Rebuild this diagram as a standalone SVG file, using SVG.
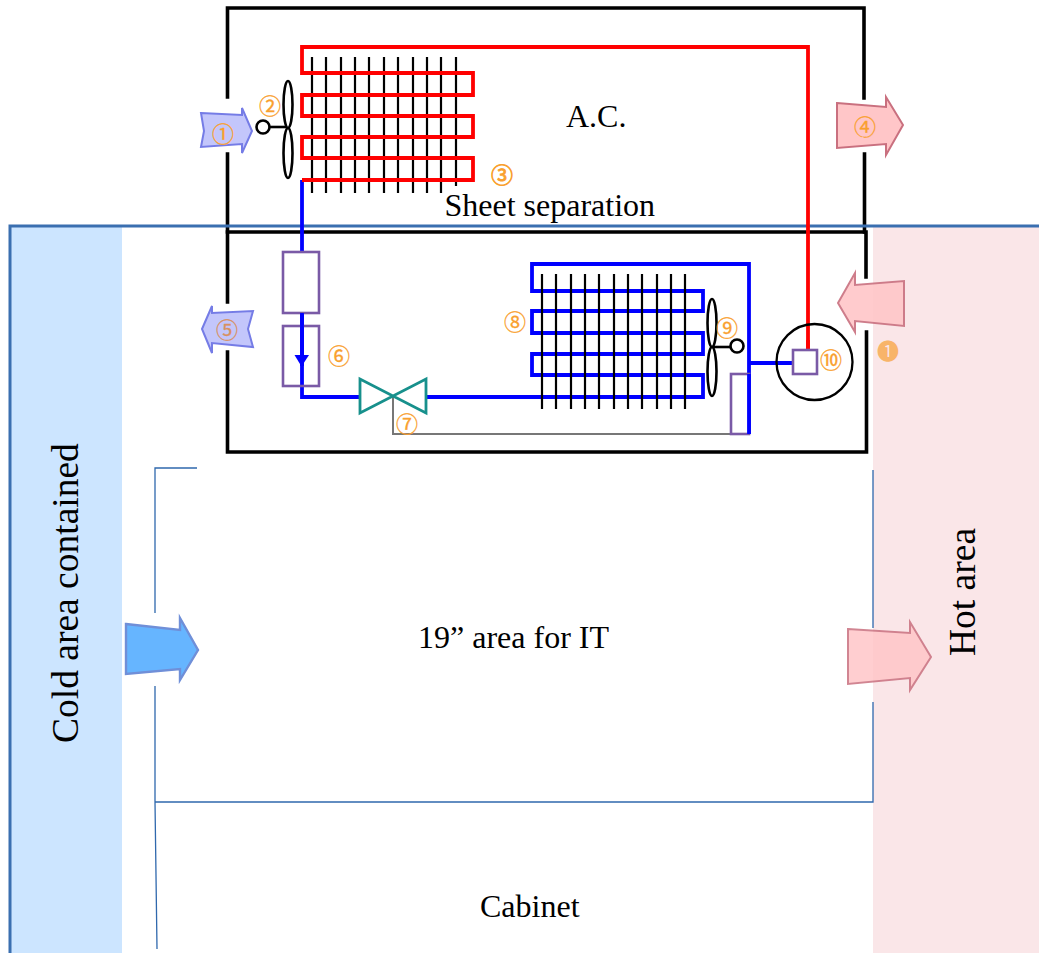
<svg xmlns="http://www.w3.org/2000/svg" width="1039" height="953" viewBox="0 0 1039 953">
<defs><filter id="soft" x="-10%" y="-10%" width="120%" height="120%"><feGaussianBlur stdDeviation="0.6"/></filter></defs>
<style>
text{font-family:"Liberation Serif","Times New Roman",serif;fill:#000}
.num{font-family:"Noto Sans CJK JP","DejaVu Sans",sans-serif;font-size:22px;fill:#f9a02e;stroke:#f9a02e;stroke-width:.3;text-anchor:middle}
.wall{fill:none;stroke:#000;stroke-width:3.6;stroke-linecap:square}
.thin{fill:none;stroke:#2f68ad;stroke-width:1.3}
.red{fill:none;stroke:#f00;stroke-width:3.8}
.blue{fill:none;stroke:#00f;stroke-width:3.8}
.fin{stroke:#000;stroke-width:2.2;fill:none}
.purple{fill:#fff;stroke:#7a5aa6;stroke-width:2.6}
.fan{fill:#fff;stroke:#000;stroke-width:2.6}
.pink{fill:#ffc6c8;stroke:#c9707f;stroke-width:2;filter:url(#soft)}
.lilac{fill:#c3c6fb;stroke:#757ce6;stroke-width:2;filter:url(#soft)}
.valve{fill:#fff;stroke:#17908c;stroke-width:2.8}
</style>
<rect width="1039" height="953" fill="#fff"/>
<g id="cold-area"><rect x="10" y="226" width="112" height="727" fill="#cce5ff"/><text transform="translate(78,743) rotate(-90)" font-size="37.5">Cold area contained</text></g>
<g id="hot-area"><rect x="873" y="226" width="166" height="727" fill="#fae6e8"/><text transform="translate(975,656) rotate(-90)" font-size="37.5">Hot area</text></g>
<g id="connectors">
<path class="wall" d="M227.500 97V8H864V98M864.500 154V232M227.500 154V232"/>
<path class="wall" d="M227.500 232H866V277M866.500 332V452H227.500V352M227.500 302V232"/>
<path class="thin" d="M197 468H155V613M155 686V802H873V702M873 628V470M155 802L157 949"/>
<path fill="none" stroke="#3a6fb0" stroke-width="3" d="M10 953V226H1039"/>
<path class="blue" d="M302 180V397H360M426 397H703V375H532V354H703V333H532V311H703V291H532V264H749V434M749 363H793"/>
<path class="fin" d="M312 57V193M326 57V193M341 57V193M355 57V193M369 57V193M384 57V193M398 57V193M413 57V193M427 57V193M441 57V193M456 57V186"/>
<path class="fin" d="M542 274V409M556 274V409M571 274V409M585 274V409M599 274V409M614 274V409M628 274V409M642 274V409M657 274V409M671 274V409M685 274V409"/>
<path class="red" d="M302 180H473V158H302V137H473V116H302V95H473V73H302V47H808V350"/>
<path d="M393 396V434H731" fill="none" stroke="#777" stroke-width="2"/>
</g>
<g id="arrow-1"><polygon class="lilac" points="201,113 242,115 242,108 252,131 242,153 242,144 201,147 204,131"/><text class="num" x="223" y="142">①</text></g>
<g id="fan-2"><path d="M263 127H288" stroke="#000" stroke-width="2.600"/><ellipse class="fan" cx="288" cy="104.500" rx="4.500" ry="23.500"/><ellipse class="fan" cx="288" cy="153" rx="4.500" ry="25"/><circle class="fan" cx="263" cy="127" r="6.500"/><text class="num" x="270" y="114">②</text></g>
<g id="condenser-3"><text class="num" x="502" y="183" style="stroke-width:.8">③</text></g>
<g id="arrow-4"><polygon class="pink" points="837,103 886,107 886,97 903,125 886,155 886,144 837,148"/><text class="num" x="865" y="135">④</text></g>
<g id="arrow-5"><polygon class="lilac" points="202,329 212,306 212,313 253,311 248,329 253,347 212,343 212,353"/><text class="num" x="227" y="338" style="fill:#d9905f;stroke:#d9905f">⑤</text></g>
<g id="filter-6"><rect class="purple" x="283" y="252" width="36" height="61"/><rect x="283" y="326" width="36" height="60" fill="none" stroke="#7a5aa6" stroke-width="2.600"/><path d="M302 313V366" stroke="#00f" stroke-width="3.800"/><path d="M294.500 355H309L301.500 366.500Z" fill="#00f"/><text class="num" x="339" y="364">⑥</text></g>
<g id="valve-7"><polygon class="valve" points="360,379 360,413 426,379 426,413"/><text class="num" x="407" y="432">⑦</text></g>
<g id="evaporator-8"><text class="num" x="515" y="330">⑧</text></g>
<g id="fan-9"><path d="M712 347H737" stroke="#000" stroke-width="2.600"/><ellipse class="fan" cx="712" cy="323" rx="4.500" ry="24"/><ellipse class="fan" cx="712" cy="371.500" rx="4.500" ry="24.500"/><circle class="fan" cx="737" cy="346" r="6.500"/><text class="num" x="727" y="336">⑨</text></g>
<g id="receiver"><rect class="purple" x="731" y="374" width="18" height="60"/><path d="M749 374V434" stroke="#00f" stroke-width="3.800"/></g>
<g id="compressor-10"><circle cx="814.500" cy="362" r="38" fill="none" stroke="#000" stroke-width="2.300"/><path d="M808 340V350" stroke="#f00" stroke-width="3.800"/><rect class="purple" x="793" y="350" width="24" height="24"/><text class="num" x="831" y="368">⑩</text></g>
<g id="arrow-11"><polygon class="pink" style="opacity:.9" points="838,303 855,273 855,285 904,281 904,326 855,321 855,332"/><text class="num" x="888" y="359" style="fill:#f8b469;stroke:none">❶</text></g>
<g id="arrow-cold"><polygon fill="#66b5ff" stroke="#6f8fd8" stroke-width="2.400" filter="url(#soft)" points="126,624 180,630 180,618 198,650 180,680 180,669 126,674"/></g>
<g id="arrow-hot"><polygon class="pink" style="opacity:.85" points="848,629 910,633 910,622 931,657 910,690 910,678 848,684"/></g>
<g id="labels">
<text x="566" y="127" font-size="32">A.C.</text>
<text x="444.500" y="216" font-size="32">Sheet separation</text>
<text x="418" y="648" font-size="32">19” area for IT</text>
<text x="480" y="917" font-size="32">Cabinet</text>
</g>
</svg>
